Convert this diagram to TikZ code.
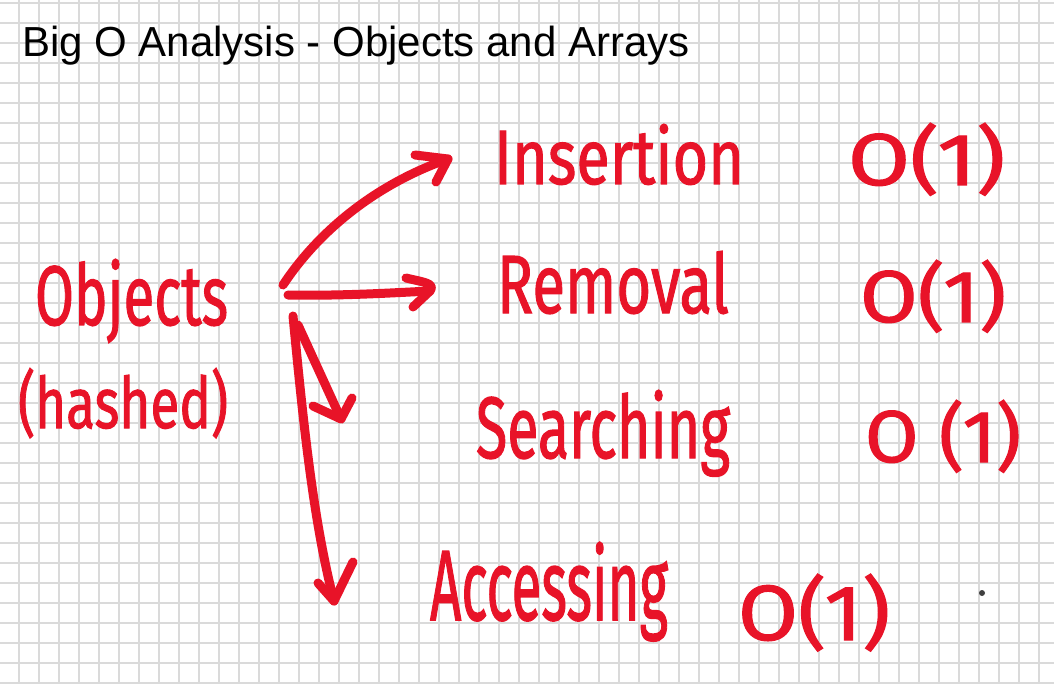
\documentclass[tikz,border=0pt]{standalone}
\usepackage{fontspec}
\usepackage{graphicx}
\setmainfont{Liberation Sans}
\newfontfamily\hwfont{Fira Sans}[FakeBold=1.5]
\definecolor{marker}{RGB}{232,19,40}
\definecolor{gridgray}{RGB}{218,218,218}
\newcommand{\hw}[3]{\resizebox{#1pt}{#2pt}{\hwfont #3}}
\tikzset{
  hand/.style={inner sep=0pt, outer sep=0pt, anchor=base west, text=marker},
  stroke/.style={draw=marker, line width=9pt, line cap=round, line join=round},
  gridline/.style={draw=gridgray, line width=1.6pt}
}
\begin{document}
\begin{tikzpicture}[x=1pt,y=-1pt]
\useasboundingbox (0,0) rectangle (1054,684);
\fill[white] (0,0) rectangle (1054,684);
% grid
\foreach \i in {0,...,52} {\draw[gridline] (19+20*\i,0) -- (19+20*\i,684);}
\foreach \j in {0,...,34} {\draw[gridline] (0,3+20*\j) -- (1054,3+20*\j);}
% title
\node[inner sep=0pt, anchor=base west, font=\fontsize{42}{44}\selectfont] (title) at (22,57) {Big O Analysis - Objects and Arrays};
% handwritten labels
\node[hand] (obj) at (35,325) {\hw{193}{66}{Objects}};
\node[hand] (hashed) at (18,428) {\hw{210}{60}{(hashed)}};
\node[hand] (ins) at (494,184) {\hw{250}{60}{Insertion}};
\node[hand] (rem) at (497,313) {\hw{232}{62}{Removal}};
\node[hand] (sea) at (476,458) {\hw{254}{68}{Searching}};
\node[hand] (acc) at (430,620) {\hw{238}{78}{Accessing}};
\node[hand] (o1) at (848,185) {\hw{157}{62}{O(1)}};
\node[hand] (o2) at (860,322) {\hw{146}{62}{O(1)}};
\node[hand] (o3) at (865,462) {\hw{156}{62}{O (1)}};
\node[hand] (o4) at (738,640) {\hw{152}{66}{O(1)}};
% arrow anchor points
\coordinate (s1) at (283,285);
\coordinate (t1) at (448,159);
\coordinate (s2) at (288,295);
\coordinate (t2) at (430,291);
\coordinate (s3) at (298,325);
\coordinate (t3) at (341,419);
\coordinate (s4) at (293,316);
\coordinate (t4) at (334,601);
% arrows
\draw[stroke] (s1) .. controls (322,226) and (382,182) .. (t1);
\draw[stroke] (t1) ++(-33,-4) -- (t1) -- ++(-12,23);
\draw[stroke] (s2) .. controls (340,296) and (390,293) .. (t2);
\draw[stroke] (t2) ++(-24,-13) .. controls ++(16,4) and ++(6,-8) .. (t2) -- ++(-17,16);
\draw[stroke] (s3) -- (t3);
\draw[stroke] (t3) ++(-28,-13) -- (t3) -- ++(11,-21);
\draw[stroke] (s4) .. controls (303,420) and (313,520) .. (t4);
\draw[stroke] (t4) ++(-16,-18) -- (t4) -- ++(19,-39);
% small cursor dot
\fill[black!75] (982,593) circle (3);
\end{tikzpicture}
\end{document}
